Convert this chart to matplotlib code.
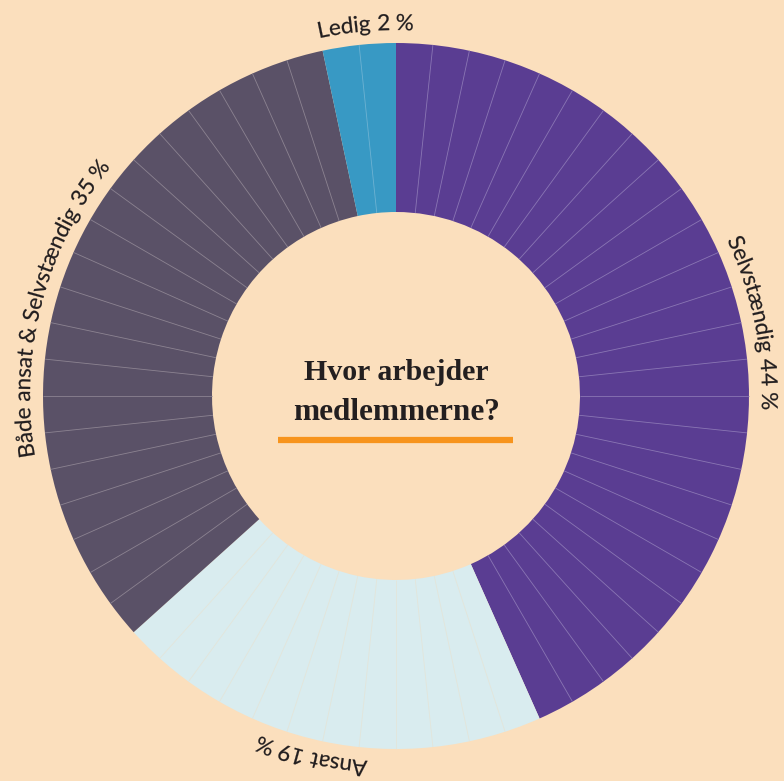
import numpy as np
import matplotlib
matplotlib.use('Agg')
import matplotlib.pyplot as plt
from matplotlib.font_manager import FontProperties, findfont
from matplotlib.ft2font import FT2Font
from matplotlib.textpath import TextPath
from matplotlib.path import Path
from matplotlib.patches import PathPatch

# data (clockwise from top)
categories = ['Selvstændig', 'Ansat', 'Både ansat & Selvstændig', 'Ledig']
percent = [44, 19, 35, 2]
segments = [26, 12, 20, 2]   # drawn pieces, 6 degrees each
labels = [f'{c} {p} %' for c, p in zip(categories, percent)]
colors = ['#5a3d92', '#d9ecef', '#5a5167', '#3899c4']
line_colors = ['#8a76b4', '#e3e5da', '#8c8391', '#6db2d2']
label_nudge = [0.5, 1.2, -3.4, 1.3]   # degrees, small layout tweak

W, H = 784, 781
bg = '#fbdfbd'
cx, cy = 396, H - 396
r_out, r_in = 353, 184
n_total = sum(segments)
step = 360 / n_total

fig = plt.figure(figsize=(W / 100, H / 100), dpi=100, facecolor=bg)
ax = fig.add_axes([0, 0, 1, 1])
ax.set_facecolor(bg)

ax.pie(segments, colors=colors, startangle=90, counterclock=False, radius=r_out,
       center=(cx, cy), wedgeprops=dict(width=r_out - r_in, linewidth=0, antialiased=True))

# thin lines between pieces inside a category
pos = 0
for v, lc in zip(segments, line_colors):
    for k in range(1, v):
        a = np.deg2rad(90 - step * (pos + k))
        ax.plot([cx + r_in * np.cos(a), cx + r_out * np.cos(a)],
                [cy + r_in * np.sin(a), cy + r_out * np.sin(a)],
                color=lc, lw=0.6, solid_capstyle='butt')
    pos += v

# curved labels outside the ring: glyph outlines bent onto the arc
fs = 16
em = fs * 100 / 72
fp = FontProperties(family='Lato', size=fs)
font = FT2Font(findfont(fp))
font.set_size(fs, 100)
R = 366
pos = 0
for v, lab, nudge in zip(segments, labels, label_nudge):
    mid = np.deg2rad(step * (pos + v / 2) + nudge)
    pos += v
    pieces = []
    pen = 0
    for ch in lab:
        adv = font.load_char(ord(ch)).linearHoriAdvance / 65536
        if ch == ' ':
            pen += adv
            continue
        tp = TextPath((0, 0), ch, size=em, prop=fp)
        verts = tp.vertices.copy()
        shift = pen
        if ch.isdigit():
            # proportional spacing for figures
            xmin, xmax = verts[:, 0].min(), verts[:, 0].max()
            shift = pen + 0.04 * em - xmin
            adv = (xmax - xmin) + 0.08 * em
        verts[:, 0] += shift
        pieces.append((verts, tp.codes))
        pen += adv
    total = pen
    for verts, codes in pieces:
        th = mid + (verts[:, 0] - total / 2) / R
        rr = R + verts[:, 1]
        new = np.column_stack([cx + rr * np.sin(th), cy + rr * np.cos(th)])
        ax.add_patch(PathPatch(Path(new, codes), facecolor='#231f20',
                               edgecolor='#231f20', lw=0.15))

# center title
ax.text(cx, H - 380, 'Hvor arbejder', family='Liberation Serif', weight='bold',
        size=21.5, color='#231f20', ha='center', va='baseline')
ax.text(cx + 1, H - 420, 'medlemmerne?', family='Liberation Serif', weight='bold',
        size=22.5, color='#231f20', ha='center', va='baseline')
ax.plot([278, 513], [H - 440, H - 440], color='#f7941d', lw=4.5, solid_capstyle='butt')

ax.set_xlim(0, W)
ax.set_ylim(0, H)
ax.set_aspect('auto')
ax.axis('off')

fig.savefig('out.png', dpi=100, facecolor=bg)
